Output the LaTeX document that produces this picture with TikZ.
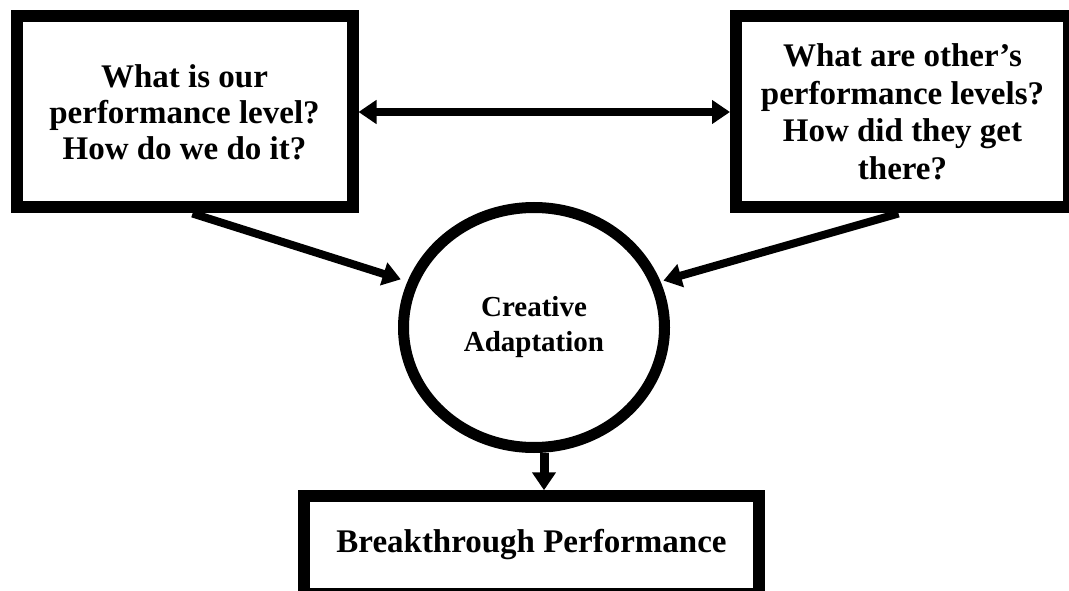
\documentclass[tikz,border=0pt]{standalone}
\usepackage{fontspec}
\setmainfont{Liberation Serif}
\usetikzlibrary{arrows.meta,shapes.geometric,calc}

\tikzset{
  frame/.style={draw=black, line width=12pt, rectangle, fill=white,
    align=center, inner sep=0pt,
    font=\bfseries\fontsize{33}{36}\selectfont},
  hub/.style={draw=black, line width=11pt, ellipse, fill=white,
    align=center, inner sep=0pt,
    font=\bfseries\fontsize{29}{35}\selectfont},
  link/.style={line width=8pt, draw=black,
    -{Triangle[length=18pt,width=23pt]}},
  twoway/.style={line width=8pt, draw=black,
    {Triangle[length=18pt,width=23pt]}-{Triangle[length=18pt,width=23pt]}},
}

\begin{document}
\begin{tikzpicture}[x=1pt, y=-1pt]
  \useasboundingbox (0,0) rectangle (1069,591);
  \clip (0,0) rectangle (1069,591);

  % the two question boxes
  \node[frame, minimum width=336pt, minimum height=191pt] (own)
    at (184.5,112) {What is our\\performance level?\\How do we do it?};
  \node[frame, minimum width=333pt, minimum height=191pt,
        font=\bfseries\fontsize{33}{37.5}\selectfont] (others)
    at (902.5,112) {What are other’s\\performance levels?\\How did they get\\there?};

  % central adaptation circle
  \node[hub, minimum width=261pt, minimum height=240pt] (adapt)
    at (534,327.5) {Creative\\Adaptation};

  % result box
  \node[frame, minimum width=455pt, minimum height=97.5pt] (result)
    at (531.5,545) {Breakthrough Performance};

  % connectors
  \draw[twoway] (own.east) -- (others.west);
  \draw[link, shorten >=7pt] ([xshift=8pt]own.south) -- (adapt.160);
  \draw[link, shorten >=3pt] ([xshift=-4pt]others.south) -- (adapt.20);
  \coordinate (down) at ([xshift=10pt]adapt.south);
  \draw[link, line width=9pt] (down) -- (down |- result.north);
\end{tikzpicture}
\end{document}
